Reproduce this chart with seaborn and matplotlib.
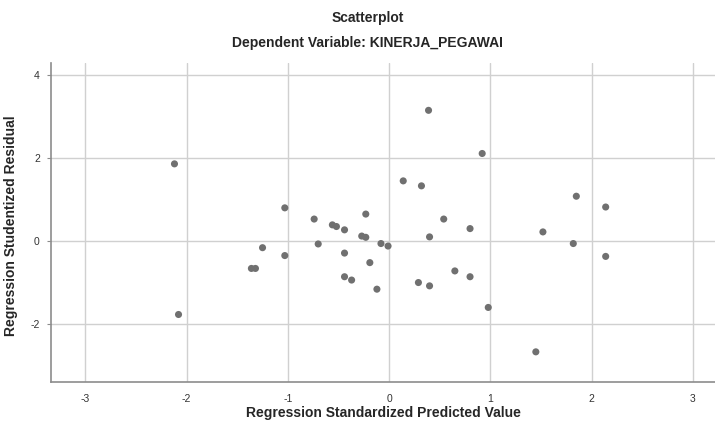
import seaborn as sns
import matplotlib.pyplot as plt
import pandas as pd

# ----------------------------
# Data (n = 40)
# ----------------------------
predicted = [
    0.39, 0.92, 0.14, 0.32, -0.23, 0.54, 0.80, -0.56, -0.52, -0.44,
    -0.27, -0.23, 0.40, -0.08, -0.01, -0.70, -0.44, -0.19, -0.44, -0.37,
    -0.12, 0.29, 0.40, 0.65, 0.80, 0.98, -2.12, -2.08, -1.03, -0.74,
    -1.25, -1.03, -1.36, -1.32, 1.85, 2.14, 1.52, 1.82, 2.14, 1.45,
]
residual = [
    3.15, 2.11, 1.45, 1.33, 0.65, 0.53, 0.30, 0.39, 0.35, 0.27,
    0.12, 0.09, 0.10, -0.06, -0.12, -0.07, -0.29, -0.52, -0.86, -0.94,
    -1.16, -1.00, -1.08, -0.72, -0.86, -1.60, 1.86, -1.77, 0.80, 0.53,
    -0.16, -0.35, -0.66, -0.66, 1.08, 0.82, 0.22, -0.06, -0.37, -2.67,
]
x_ticks = [-3, -2, -1, 0, 1, 2, 3]
y_ticks = [-2, 0, 2, 4]

df = pd.DataFrame({"Predicted": predicted, "Residual": residual})

# ----------------------------
# Plot
# ----------------------------
sns.set_style("whitegrid", {"grid.color": "#d0d0d0", "axes.edgecolor": "#8c8c8c"})
plt.rcParams["font.family"] = ["Liberation Sans", "DejaVu Sans"]
plt.rcParams["axes.unicode_minus"] = False

fig = plt.figure(figsize=(7.15, 4.21), dpi=100)
ax = fig.add_axes([0.0713, 0.0933, 0.9287, 0.757])

sns.scatterplot(data=df, x="Predicted", y="Residual", ax=ax,
                color="#707070", s=26, edgecolor="none", legend=False)

ax.set_xlim(-3.34, 3.22)
ax.set_ylim(-3.39, 4.29)
ax.set_xticks(x_ticks)
ax.set_yticks(y_ticks)
ax.grid(True, linewidth=1.0)
for side in ["top", "right"]:
    ax.spines[side].set_visible(False)
for side in ["left", "bottom"]:
    ax.spines[side].set_linewidth(1.2)

ax.tick_params(axis="x", length=0, pad=9, labelsize=7.5, labelcolor="#333333")
ax.tick_params(axis="y", length=3, width=0.8, color="#8c8c8c", pad=5,
               labelsize=7.5, labelcolor="#333333", left=True)

ax.set_xlabel("Regression Standardized Predicted Value", fontsize=10,
              weight="bold", labelpad=1)
ax.set_ylabel("Regression Studentized Residual", fontsize=10, weight="bold")
ax.yaxis.set_label_coords(-0.05, 0.49)

fig.text(0.514, 0.957, "Scatterplot", ha="center", va="center",
         fontsize=10, weight="bold")
fig.text(0.514, 0.898, "Dependent Variable: KINERJA_PEGAWAI", ha="center",
         va="center", fontsize=10, weight="bold")

fig.savefig("out.png", dpi=100)
plt.close(fig)
